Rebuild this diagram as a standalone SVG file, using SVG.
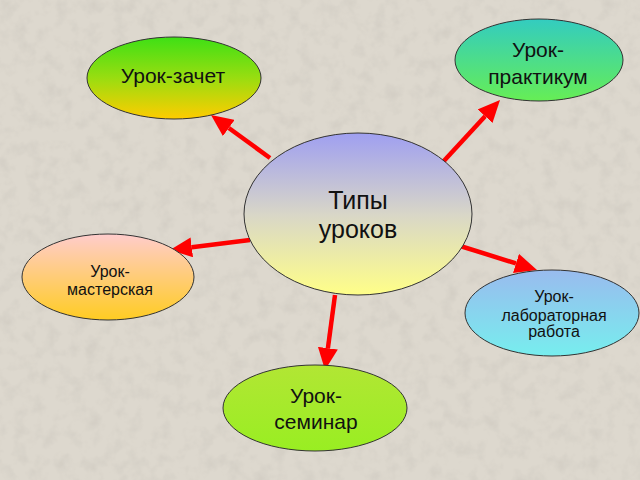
<svg xmlns="http://www.w3.org/2000/svg" width="640" height="480" viewBox="0 0 640 480">
<defs>
  <filter id="tex" x="0" y="0" width="100%" height="100%">
    <feTurbulence type="fractalNoise" baseFrequency="0.07" numOctaves="3" seed="4" result="n"/>
    <feColorMatrix in="n" type="matrix" values="0 0 0 0 0.55  0 0 0 0 0.52  0 0 0 0 0.47  0 0 0 -2.2 1.25"/>
  </filter>
  <linearGradient id="gCenter" x1="0" y1="0" x2="0" y2="1">
    <stop offset="0" stop-color="#9f9ff0"/>
    <stop offset="0.5" stop-color="#d8d6c8"/>
    <stop offset="1" stop-color="#ffff88"/>
  </linearGradient>
  <linearGradient id="gZachet" x1="0" y1="0" x2="0" y2="1">
    <stop offset="0" stop-color="#3ee015"/>
    <stop offset="0.5" stop-color="#99dd10"/>
    <stop offset="1" stop-color="#ffcc00"/>
  </linearGradient>
  <linearGradient id="gPrakt" x1="0" y1="0" x2="0" y2="1">
    <stop offset="0" stop-color="#33ccc0"/>
    <stop offset="1" stop-color="#66ee55"/>
  </linearGradient>
  <linearGradient id="gMaster" x1="0" y1="0" x2="0" y2="1">
    <stop offset="0" stop-color="#ffcccc"/>
    <stop offset="1" stop-color="#ffcc22"/>
  </linearGradient>
  <linearGradient id="gLab" x1="0" y1="0" x2="0" y2="1">
    <stop offset="0" stop-color="#99bbee"/>
    <stop offset="1" stop-color="#77eeee"/>
  </linearGradient>
  <linearGradient id="gSem" x1="0" y1="0" x2="0" y2="1">
    <stop offset="0" stop-color="#b2e634"/>
    <stop offset="1" stop-color="#99ee22"/>
  </linearGradient>
  <marker id="ah" markerUnits="userSpaceOnUse" viewBox="0 0 22 20" markerWidth="22" markerHeight="20" refX="0" refY="10" orient="auto">
    <path d="M0,0 L22,10 L0,20 z" fill="#ff0000"/>
  </marker>
  <style>
    .node ellipse { stroke: #333333; stroke-width: 1; }
    .t { font-family: "Liberation Sans", Arial, sans-serif; fill: #111111; text-anchor: middle; }
    .big { font-size: 21px; }
    .small { font-size: 16px; }
    .conn line { stroke: #ff0000; stroke-width: 4.5; marker-end: url(#ah); }
  </style>
</defs>
<rect x="0" y="0" width="640" height="480" fill="#ddd8ce"/>
<rect x="0" y="0" width="640" height="480" filter="url(#tex)" opacity="0.35"/>

<g id="connectors" class="conn">
  <line x1="270" y1="158" x2="228.8" y2="128"/>
  <line x1="442" y1="163" x2="485.1" y2="116.2"/>
  <line x1="250" y1="240" x2="191.8" y2="247.3"/>
  <line x1="457" y1="245" x2="516" y2="263.4"/>
  <line x1="335" y1="295" x2="327.9" y2="348.2"/>
</g>

<g id="center" class="node">
  <ellipse cx="358" cy="214" rx="114" ry="81" fill="url(#gCenter)"/>
  <text class="t" x="358" y="209" font-size="25">Типы</text>
  <text class="t" x="358" y="238" font-size="25">уроков</text>
</g>

<g id="zachet" class="node">
  <ellipse cx="174" cy="78" rx="87" ry="41" fill="url(#gZachet)"/>
  <text class="t big" x="173" y="83">Урок-зачет</text>
</g>

<g id="praktikum" class="node">
  <ellipse cx="539" cy="60" rx="84" ry="41" fill="url(#gPrakt)"/>
  <text class="t big" x="538" y="57">Урок-</text>
  <text class="t big" x="538" y="84">практикум</text>
</g>

<g id="masterskaya" class="node">
  <ellipse cx="108" cy="277" rx="86" ry="43" fill="url(#gMaster)"/>
  <text class="t small" x="110" y="277">Урок-</text>
  <text class="t small" x="110" y="295">мастерская</text>
</g>

<g id="laboratornaya" class="node">
  <ellipse cx="552" cy="313" rx="87" ry="43" fill="url(#gLab)"/>
  <text class="t small" x="554" y="302">Урок-</text>
  <text class="t small" x="554" y="321">лабораторная</text>
  <text class="t small" x="554" y="337">работа</text>
</g>

<g id="seminar" class="node">
  <ellipse cx="315" cy="408" rx="92" ry="43" fill="url(#gSem)"/>
  <text class="t big" x="316" y="403">Урок-</text>
  <text class="t big" x="316" y="429">семинар</text>
</g>
</svg>
